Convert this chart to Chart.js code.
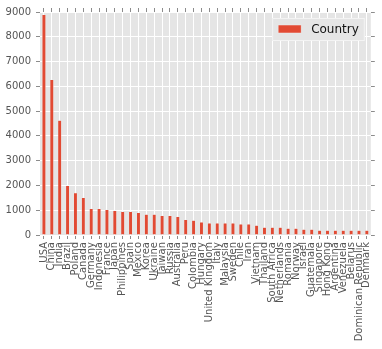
<!DOCTYPE html>
<html>
<head>
<meta charset="utf-8">
<script src="https://cdn.jsdelivr.net/npm/chart.js@4/dist/chart.umd.min.js"></script>
<style>
  html, body { margin: 0; padding: 0; background: #ffffff; }
  #chart { display: block; }
</style>
</head>
<body>
<canvas id="chart" width="382" height="349"></canvas>
<script>
// countries and their counts, sorted descending
const countries = [
  'USA', 'China', 'India', 'Brazil', 'Poland', 'Canada', 'Germany', 'Indonesia',
  'France', 'Japan', 'Philippines', 'Spain', 'Mexico', 'Korea', 'Ukraine', 'Taiwan',
  'Russia', 'Australia', 'Peru', 'Colombia', 'Hungary', 'United Kingdom', 'Italy',
  'Malaysia', 'Sweden', 'Chile', 'Iran', 'Vietnam', 'Thailand', 'South Africa',
  'Netherlands', 'Romania', 'Norway', 'Israel', 'Guatemala', 'Singapore', 'Hong Kong',
  'Argentina', 'Venezuela', 'Belarus', 'Dominican Republic', 'Denmark'
];
const counts = [
  8900, 6280, 4630, 2000, 1710, 1510, 1070, 1070,
  1030, 990, 950, 950, 910, 840, 840, 790,
  790, 750, 630, 600, 520, 480, 480,
  480, 480, 440, 440, 390, 310, 310,
  310, 270, 270, 230, 230, 190, 190,
  190, 190, 190, 190, 190
];
const seriesName = 'Country';
const yMin = 0;
const yMax = 9000;
const yStep = 1000;

const barColor = '#E24A33';
const tickColor = '#8c8c8c';
const labelColor = '#555555';

// grey panel behind the bars
const plotBackground = {
  id: 'plotBackground',
  beforeDraw(chart) {
    const { ctx, chartArea: a } = chart;
    ctx.save();
    ctx.fillStyle = '#E5E5E5';
    ctx.fillRect(a.left, a.top, a.width, a.height);
    ctx.restore();
  }
};

// legend box in the upper right corner of the panel
const cornerLegend = {
  id: 'cornerLegend',
  afterDraw(chart) {
    const { ctx, chartArea: a } = chart;
    const ds = chart.data.datasets[0];
    ctx.save();
    ctx.font = '12px "DejaVu Sans"';
    const tw = ctx.measureText(ds.label).width;
    const w = 6 + 23 + 10 + tw + 6;
    const h = 23;
    const x = a.right - 6 - w;
    const y = a.top + 6;
    ctx.fillStyle = '#E5E5E5';
    ctx.fillRect(x, y, w, h);
    ctx.strokeStyle = '#f4f4f4';
    ctx.lineWidth = 1;
    ctx.strokeRect(x + 0.5, y + 0.5, w - 1, h - 1);
    ctx.fillStyle = ds.backgroundColor;
    ctx.fillRect(x + 6, y + 7, 23, 8);
    ctx.strokeStyle = '#EEEEEE';
    ctx.lineWidth = 0.5;
    ctx.strokeRect(x + 6, y + 7, 23, 8);
    ctx.fillStyle = '#111111';
    ctx.textBaseline = 'middle';
    ctx.fillText(ds.label, x + 39, y + h / 2 + 0.5);
    ctx.restore();
  }
};

const tickFont = { family: 'DejaVu Sans', size: 10 };

new Chart(document.getElementById('chart'), {
  type: 'bar',
  data: {
    labels: countries,
    datasets: [{
      label: seriesName,
      data: counts,
      backgroundColor: barColor,
      borderColor: '#EEEEEE',
      borderWidth: 0.5,
      barPercentage: 0.5,
      categoryPercentage: 1.0,
      xAxisID: 'x',
      yAxisID: 'y'
    }]
  },
  options: {
    responsive: false,
    animation: false,
    layout: { padding: { top: 8, right: 2, left: 0, bottom: 0 } },
    plugins: {
      legend: { display: false },
      tooltip: { enabled: false }
    },
    scales: {
      x: {
        type: 'category',
        position: 'bottom',
        offset: true,
        grid: { offset: false, color: '#ffffff', lineWidth: 1, tickColor: tickColor, tickLength: 4 },
        border: { display: false },
        ticks: { autoSkip: false, minRotation: 90, maxRotation: 90, padding: 3, color: labelColor, font: tickFont },
        afterFit(scale) { scale.height = 114; }
      },
      x2: {
        type: 'category',
        position: 'top',
        labels: countries,
        offset: true,
        grid: { offset: false, drawOnChartArea: false, tickColor: tickColor, tickLength: 4 },
        border: { display: false },
        ticks: { display: false, autoSkip: false },
        afterFit(scale) { scale.height = 4; }
      },
      y: {
        position: 'left',
        min: yMin,
        max: yMax,
        grid: { color: '#ffffff', lineWidth: 1, tickColor: tickColor, tickLength: 4 },
        border: { display: false },
        ticks: {
          stepSize: yStep,
          padding: 5,
          color: labelColor,
          font: tickFont,
          callback: value => String(value)
        },
        afterFit(scale) { scale.width = 40; }
      },
      y2: {
        position: 'right',
        min: yMin,
        max: yMax,
        grid: { drawOnChartArea: false, tickColor: tickColor, tickLength: 4 },
        border: { display: false },
        ticks: { display: false, stepSize: yStep },
        afterFit(scale) { scale.width = 5; }
      }
    }
  },
  plugins: [plotBackground, cornerLegend]
});
</script>
</body>
</html>
